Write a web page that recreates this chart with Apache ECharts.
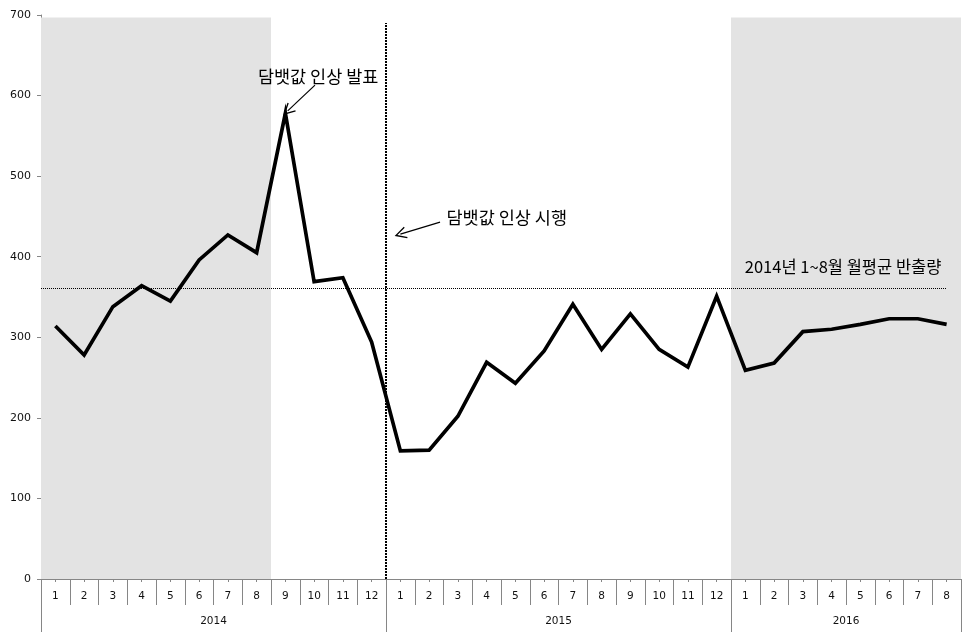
<!DOCTYPE html>
<html><head><meta charset="utf-8">
<script src="https://cdn.jsdelivr.net/npm/echarts@6/dist/echarts.min.js"></script>
<style>html,body{margin:0;padding:0;background:#fff}#c{width:977px;height:638px}</style>
</head><body><div id="c"></div>
<script>
// ---- data ----
const years = ['2014', '2015', '2016'];
const months2014 = ['1','2','3','4','5','6','7','8','9','10','11','12'];
const months2015 = ['1','2','3','4','5','6','7','8','9','10','11','12'];
const months2016 = ['1','2','3','4','5','6','7','8'];
const values2014 = [314, 278, 338, 364, 345, 396, 427, 405, 578, 369, 374, 294];
const values2015 = [159, 160, 202, 269, 243, 283, 341, 285, 329, 285, 263, 351];
const values2016 = [259, 268, 307, 310, 316, 323, 323, 316];
const avgJanAug2014 = 361;
const yTickValues = [0, 100, 200, 300, 400, 500, 600, 700];
const labelAnnounce = '담뱃값 인상 발표';
const labelEnforce = '담뱃값 인상 시행';
const labelAvg = '2014년 1~8월 월평균 반출량';

// ---- derived ----
const monthCats = [...months2014, ...months2015, ...months2016];
const values = [...values2014, ...values2015, ...values2016];
const yearCounts = [months2014.length, months2015.length, months2016.length];
const n = monthCats.length;
const boundarySlots = new Array(n + 1).fill('');
const yearSlots = new Array(n + 1).fill('');
const yearBounds = [0];
let acc = 0;
yearCounts.forEach((c, i) => { yearSlots[acc + c / 2] = years[i]; acc += c; yearBounds.push(acc); });
const yearMids = [];
{ let a = 0; yearCounts.forEach(c => { yearMids.push(a + c / 2); a += c; }); }

const numFont = 'DejaVu Sans';
const krFont = 'Noto Sans CJK KR';
const axisGray = '#868686';
const chevron = 'path://M0,0 L6,11 L4.8,11.6 L0,2.8 L-4.8,11.6 L-6,11 Z';

const chart = echarts.init(document.getElementById('c'));
chart.setOption({
  animation: false,
  backgroundColor: '#fff',
  grid: { left: 41, right: 16, top: 15, bottom: 59, containLabel: false },
  xAxis: [
    { // months
      type: 'category', data: monthCats, boundaryGap: true, position: 'bottom',
      axisLine: { show: true, lineStyle: { color: axisGray, width: 1 } },
      axisTick: { show: true, alignWithLabel: true, length: 3, lineStyle: { color: axisGray } },
      axisLabel: { interval: 0, margin: 12, color: '#111', fontFamily: numFont, fontSize: 10.5 },
      splitLine: { show: false }
    },
    { // month dividers
      type: 'category', data: boundarySlots, boundaryGap: false, position: 'bottom',
      axisLine: { show: false },
      axisTick: { show: true, interval: 0, length: 26, lineStyle: { color: axisGray } },
      axisLabel: { show: false }, splitLine: { show: false }
    },
    { // years
      type: 'category', data: yearSlots, boundaryGap: false, position: 'bottom',
      axisLine: { show: false },
      axisTick: { show: true, length: 53, interval: (i) => yearBounds.includes(i), lineStyle: { color: axisGray } },
      axisLabel: { show: true, margin: 37, interval: (i) => yearMids.includes(i), color: '#111', fontFamily: numFont, fontSize: 10.5 },
      splitLine: { show: false }
    },
    { // hidden value axis for marks
      type: 'value', min: 0, max: n, show: false, position: 'bottom'
    }
  ],
  yAxis: {
    type: 'value', min: yTickValues[0], max: yTickValues[yTickValues.length - 1], interval: 100,
    axisLine: { show: true, lineStyle: { color: axisGray } },
    axisTick: { show: true, length: 4, lineStyle: { color: axisGray } },
    axisLabel: { color: '#111', fontFamily: numFont, fontSize: 11, margin: 10 },
    splitLine: { show: false }
  },
  series: [
    {
      type: 'line', xAxisIndex: 3, data: [], z: 0, silent: true,
      markArea: {
        silent: true,
        itemStyle: { color: '#e3e3e3' },
        data: [
          [{ coord: [yearBounds[0], 0] }, { coord: [months2014.indexOf('8') + 1, 697] }],
          [{ coord: [yearBounds[2], 0] }, { coord: [yearBounds[3], 697] }]
        ]
      }
    },
    {
      type: 'line', xAxisIndex: 3, data: [], z: 3, silent: true,
      markLine: {
        silent: true, symbol: ['none', 'none'],
        label: { show: false },
        data: [
          [{ coord: [0, avgJanAug2014], lineStyle: { type: [1, 1], width: 1, color: '#000' } },
           { coord: [n - 0.5, avgJanAug2014] }],
          [{ coord: [yearBounds[1], 0], lineStyle: { type: [2, 1], width: 2, color: '#000' } },
           { coord: [yearBounds[1], 690] }]
        ]
      }
    },
    {
      type: 'line', xAxisIndex: 3, data: [], z: 4, silent: true,
      markLine: {
        silent: true, symbol: ['none', chevron], symbolSize: [12, 12],
        label: { show: false },
        lineStyle: { type: 'solid', width: 1.2, color: '#000' },
        data: [
          [{ coord: [9.53, 613] }, { coord: [8.58, 581] }],
          [{ coord: [13.88, 443] }, { coord: [12.5, 428] }]
        ]
      },
      markPoint: {
        silent: true, symbol: 'circle', symbolSize: 1,
        itemStyle: { color: 'rgba(0,0,0,0)' },
        label: { show: true, position: 'inside', color: '#000', fontFamily: krFont, fontSize: 17.5 },
        data: [
          { coord: [9.64, 624], label: { formatter: labelAnnounce } },
          { coord: [16.2, 449], label: { formatter: labelEnforce } },
          { coord: [27.9, 388], label: { formatter: labelAvg, fontSize: 16.5 } }
        ]
      }
    },
    {
      type: 'line', xAxisIndex: 0, data: values, z: 5,
      symbol: 'none', smooth: false,
      lineStyle: { color: '#000', width: 3.7, join: 'miter' },
      silent: true
    }
  ]
});
</script>
</body></html>
